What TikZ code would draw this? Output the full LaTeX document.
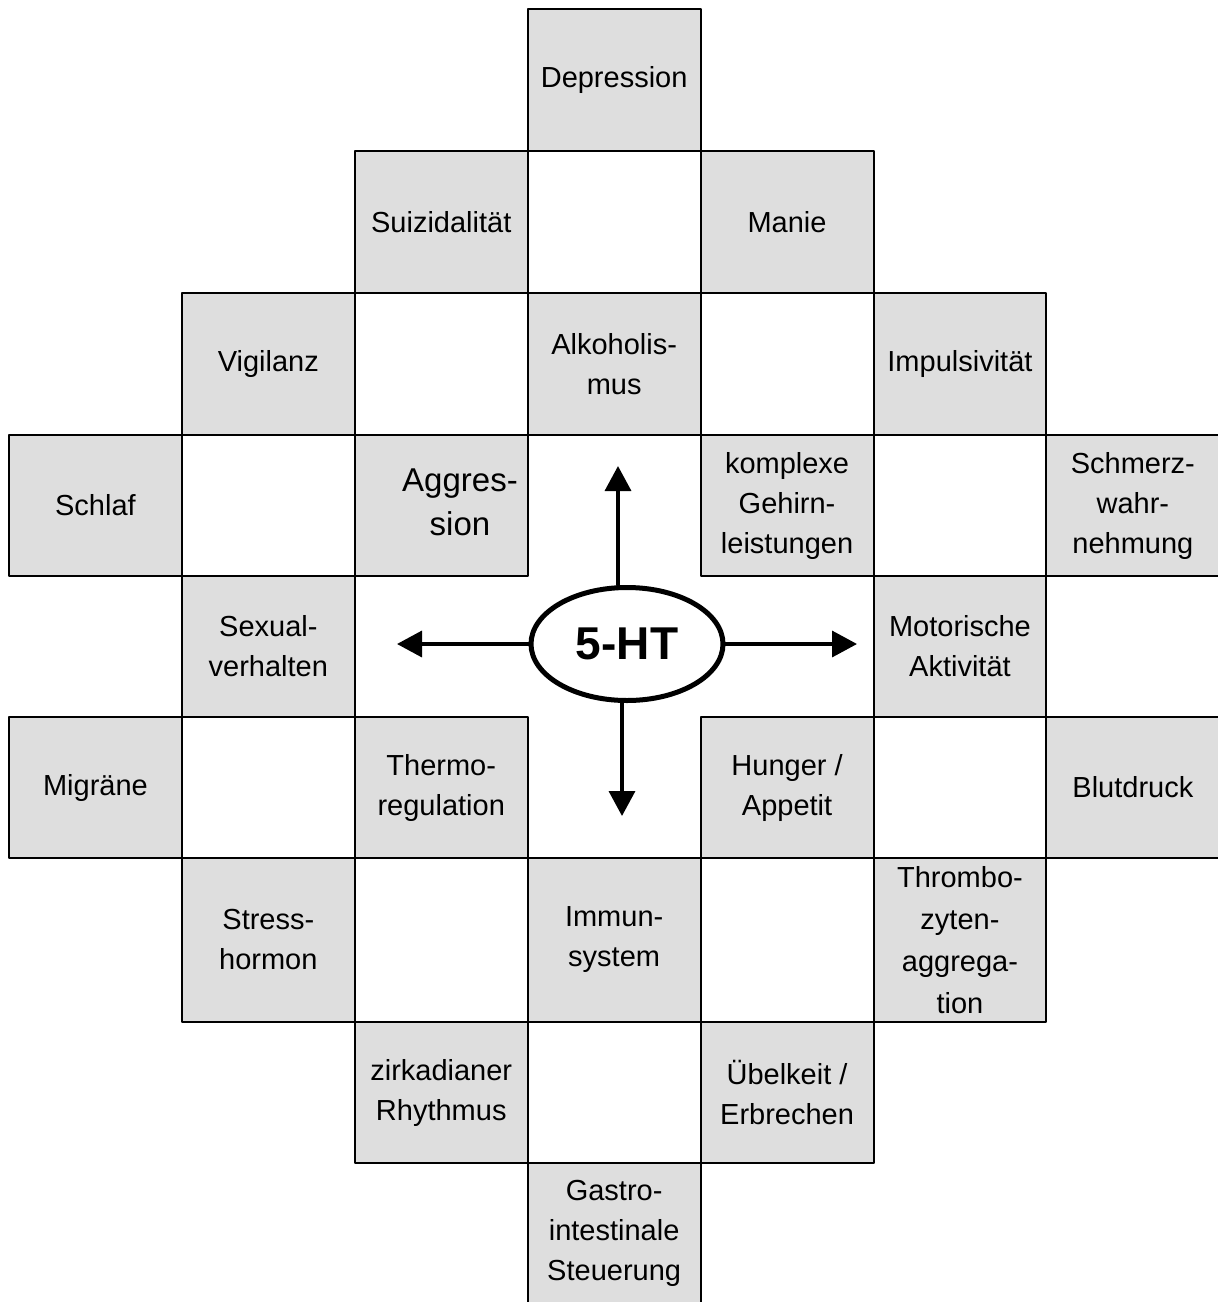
\documentclass[tikz,border=0pt]{standalone}
\usepackage{fontspec}
\setmainfont{Liberation Sans}
\usetikzlibrary{shapes.geometric,arrows.meta}
\definecolor{cellgray}{RGB}{222,222,222}

\begin{document}
\begin{tikzpicture}[line cap=round, line join=round, x=0.5pt, y=-0.5pt,
        cell/.style={draw, line width=1pt, fill=cellgray, minimum width=86.45pt,
            minimum height=70.5pt, inner sep=0pt, align=center,
            font=\fontsize{14.5}{20}\selectfont},
        tallcell/.style={cell, minimum height=71pt},
        widecell/.style={cell, minimum height=82pt},
        arrowline/.style={line width=1.75pt, -{Triangle[length=12.5pt, width=13pt]}}]
                \useasboundingbox (0,0) rectangle (1218,1302);
                \clip (0,0) rectangle (1218,1302);
                \node[tallcell] (depr) at (614.15,80) {Depression};
                \node[tallcell] (suiz) at (441.25,222) {Suizidalität};
                \node[tallcell] (manie) at (787.05,222) {Manie};
                \node[tallcell] (vigil) at (268.35,364) {Vigilanz};
                \node[tallcell] (alkoh) at (614.15,364) {Alkoholis-\\mus};
                \node[tallcell] (impuls) at (959.95,364) {Impulsivität};
                \node[cell] (schlaf) at (95.45,505.5) {Schlaf};
                \node[cell] (aggr) at (441.25,505.5) {};
                \node[align=center, inner sep=0pt, font=\fontsize{16.5}{22}\selectfont]
                    (aggrtext) at (460,502) {Aggres-\\sion};
                \node[cell] (komplex) at (787.05,505.5) {komplexe\\Gehirn-\\leistungen};
                \node[cell] (schmerz) at (1132.85,505.5) {Schmerz-\\wahr-\\nehmung};
                \node[cell] (sexual) at (268.35,646.5) {Sexual-\\verhalten};
                \node[cell] (motor) at (959.95,646.5) {Motorische\\Aktivität};
                \node[cell] (migr) at (95.45,787.5) {Migräne};
                \node[cell] (thermo) at (441.25,787.5) {Thermo-\\regulation};
                \node[cell] (hunger) at (787.05,787.5) {Hunger /\\Appetit};
                \node[cell] (blut) at (1132.85,787.5) {Blutdruck};
                \node[widecell] (stress) at (268.35,940) {Stress-\\hormon};
                \node[widecell] (immun) at (614.15,940) {Immun-\\system};
                \node[widecell, font=\fontsize{14.5}{21}\selectfont]
                    (thrombo) at (959.95,940) {Thrombo-\\zyten-\\aggrega-\\tion};
                \node[cell] (zirk) at (441.25,1092.5) {zirkadianer\\Rhythmus};
                \node[cell] (uebel) at (787.05,1092.5) {Übelkeit /\\Erbrechen};
                \node[cell] (gastro) at (614.15,1233.5) {Gastro-\\intestinale\\Steuerung};
                \node[ellipse, draw, line width=2.5pt, fill=white, minimum width=96pt,
                    minimum height=56.5pt, inner sep=0pt,
                    font=\bfseries\fontsize{23}{27}\selectfont] (ht) at (627,644) {5-HT};
                \coordinate (upend) at (618,466);
                \coordinate (downend) at (622,816);
                \coordinate (leftend) at (397,644);
                \coordinate (rightend) at (857,644);
                \draw[arrowline] (ht.north -| upend) -- (upend);
                \draw[arrowline] (ht.south -| downend) -- (downend);
                \draw[arrowline] (ht.west) -- (leftend);
                \draw[arrowline] (ht.east) -- (rightend);
            \end{tikzpicture}
\end{document}
